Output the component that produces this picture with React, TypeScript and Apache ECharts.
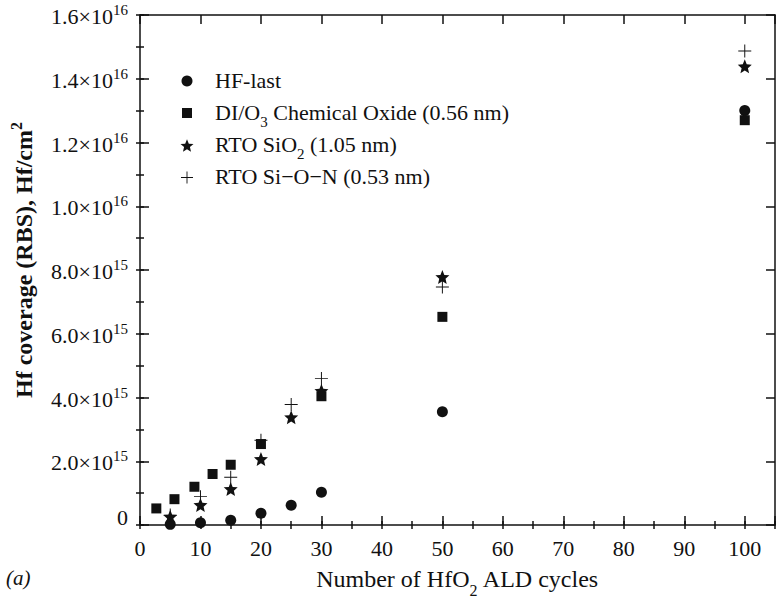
import { useEffect, useRef } from 'react';
import * as echarts from 'echarts';

const FONT = '"Liberation Serif", "Times New Roman", serif';
const INK = '#111111';

// ALD cycles for each series
const cycles = [5, 10, 15, 20, 25, 30, 50, 100];
const chemOxCycles = [2.7, 5.7, 9, 12, 15, 20, 30, 50, 100];

// Hf coverage, in units of 1e15 Hf/cm^2
const hfLast = [0.02, 0.07, 0.15, 0.37, 0.62, 1.03, 3.55, 13.0];
const chemOx = [0.52, 0.81, 1.2, 1.6, 1.89, 2.54, 4.04, 6.53, 12.7];
const rtoSiO2 = [0.26, 0.63, 1.13, 2.07, 3.38, 4.21, 7.78, 14.39];
const rtoSiON = [0.31, 0.89, 1.5, 2.66, 3.78, 4.6, 7.47, 14.87];

const seriesNames = [
  'HF-last',
  'DI/O3 Chemical Oxide (0.56 nm)',
  'RTO SiO2 (1.05 nm)',
  'RTO Si−O−N (0.53 nm)',
];
const legendLabels = [
  '{t|HF-last}',
  '{t|DI/O}{sub|3}{t| Chemical Oxide (0.56 nm)}',
  '{t|RTO SiO}{sub|2}{t| (1.05 nm)}',
  '{t|RTO Si−O−N (0.53 nm)}',
];

const X_MIN = 0;
const X_MAX = 105;
const Y_MIN = 0;
const Y_MAX = 1.6e16;
const X_MAJOR = 10;
const X_MINOR = 5;
const Y_MAJOR = 2e15;
const Y_MINOR = 1e15;

const STAR =
  'path://M10 0.5 L12.64 6.86 L19.51 7.41 L14.27 11.89 L15.88 18.59 L10 15 L4.12 18.59 L5.73 11.89 L0.49 7.41 L7.36 6.86 Z';
const PLUS =
  'path://M9.25 0 H10.75 V9.25 H20 V10.75 H10.75 V20 H9.25 V10.75 H0 V9.25 H9.25 Z';

const toPairs = (xs: number[], ys: number[]) => xs.map((x, i) => [x, ys[i] * 1e15]);

export default function App() {
  const ref = useRef<HTMLDivElement>(null);

  useEffect(() => {
    if (!ref.current) return;
    const chart = echarts.init(ref.current, null, { renderer: 'svg' });

    const lineStyle = { color: INK, width: 1.5 };
    const baseX = {
      type: 'value',
      min: X_MIN,
      max: X_MAX,
      splitLine: { show: false },
    };
    const baseY = {
      type: 'value',
      min: Y_MIN,
      max: Y_MAX,
      splitLine: { show: false },
    };

    const textRich = {
      t: { fontSize: 22, fontFamily: FONT, color: INK, lineHeight: 24, verticalAlign: 'top' },
      sub: {
        fontSize: 15,
        fontFamily: FONT,
        color: INK,
        lineHeight: 12,
        padding: [13, 0, 0, 0],
        verticalAlign: 'top',
      },
    };

    const ICON_CX = 187;
    const TEXT_X = 215;
    const legendCfg = [
      { cy: 81, size: 11 },
      { cy: 113, size: 10 },
      { cy: 145.5, size: 13 },
      { cy: 177.5, size: 12 },
    ];

    const option: any = {
      animation: false,
      backgroundColor: '#ffffff',
      textStyle: { fontFamily: FONT },
      grid: { left: 140, right: 5, top: 15, bottom: 78, containLabel: false },
      legend: seriesNames.map((name, i) => {
        const s = legendCfg[i].size;
        const left = ICON_CX - s / 2;
        return {
          data: [name],
          left,
          top: legendCfg[i].cy - 12,
          padding: 0,
          itemWidth: s,
          itemHeight: s,
          selectedMode: false,
          formatter: () => legendLabels[i],
          textStyle: { padding: [0, 0, 0, TEXT_X - (left + s + 5)], rich: textRich },
        };
      }),
      xAxis: [
        {
          ...baseX,
          position: 'bottom',
          interval: X_MAJOR,
          axisLine: { show: true, onZero: false, lineStyle },
          axisTick: { show: true, inside: true, length: 9, lineStyle },
          axisLabel: {
            show: true,
            margin: 12,
            fontSize: 22,
            fontFamily: FONT,
            color: INK,
            formatter: (v: number) => (v > 100 ? '' : String(v)),
          },
          name: '{t|Number of HfO}{sub|2}{t| ALD cycles}',
          nameLocation: 'middle',
          nameGap: 42,
          nameTextStyle: {
            rich: {
              t: { fontSize: 24, fontFamily: FONT, color: INK, lineHeight: 28, verticalAlign: 'top' },
              sub: {
                fontSize: 16,
                fontFamily: FONT,
                color: INK,
                lineHeight: 13,
                padding: [15, 0, 0, 0],
                verticalAlign: 'top',
              },
            },
          },
        },
        {
          ...baseX,
          position: 'bottom',
          interval: X_MINOR,
          axisLine: { show: false },
          axisTick: { show: true, inside: true, length: 4, lineStyle },
          axisLabel: { show: false },
        },
        {
          ...baseX,
          position: 'top',
          interval: X_MAJOR,
          axisLine: { show: true, onZero: false, lineStyle },
          axisTick: { show: true, inside: true, length: 9, lineStyle },
          axisLabel: { show: false },
        },
        {
          ...baseX,
          position: 'top',
          interval: X_MINOR,
          axisLine: { show: false },
          axisTick: { show: true, inside: true, length: 4, lineStyle },
          axisLabel: { show: false },
        },
      ],
      yAxis: [
        {
          ...baseY,
          position: 'left',
          interval: Y_MAJOR,
          axisLine: { show: true, onZero: false, lineStyle },
          axisTick: { show: true, inside: true, length: 9, lineStyle },
          axisLabel: {
            show: true,
            margin: 12,
            formatter: (v: number) => {
              if (v === 0) return '{z|0}';
              const e = Math.floor(Math.log10(v) + 1e-9);
              const m = (v / Math.pow(10, e)).toFixed(1);
              return `{m|${m}×10}{s|${e}}`;
            },
            rich: {
              m: { fontSize: 22, fontFamily: FONT, color: INK, lineHeight: 25, verticalAlign: 'bottom' },
              s: { fontSize: 15, fontFamily: FONT, color: INK, lineHeight: 10, verticalAlign: 'top' },
              z: { fontSize: 22, fontFamily: FONT, color: INK, lineHeight: 25, padding: [0, 0, 16, 0] },
            },
          },
          name: '{b|Hf coverage (RBS), Hf/cm}{s|2}',
          nameLocation: 'middle',
          nameRotate: 90,
          nameGap: 104,
          nameTextStyle: {
            padding: [0, 0, 0, 20],
            rich: {
              b: {
                fontSize: 24,
                fontWeight: 'bold',
                fontFamily: FONT,
                color: INK,
                lineHeight: 28,
                verticalAlign: 'bottom',
              },
              s: {
                fontSize: 16,
                fontWeight: 'bold',
                fontFamily: FONT,
                color: INK,
                lineHeight: 12,
                verticalAlign: 'top',
              },
            },
          },
        },
        {
          ...baseY,
          position: 'left',
          interval: Y_MINOR,
          axisLine: { show: false },
          axisTick: { show: true, inside: true, length: 4, lineStyle },
          axisLabel: { show: false },
        },
        {
          ...baseY,
          position: 'right',
          interval: Y_MAJOR,
          axisLine: { show: true, onZero: false, lineStyle },
          axisTick: { show: true, inside: true, length: 9, lineStyle },
          axisLabel: { show: false },
        },
        {
          ...baseY,
          position: 'right',
          interval: Y_MINOR,
          axisLine: { show: false },
          axisTick: { show: true, inside: true, length: 4, lineStyle },
          axisLabel: { show: false },
        },
      ],
      graphic: [
        {
          type: 'text',
          left: 6,
          top: 567,
          style: {
            text: '(a)',
            font: `italic 21px ${FONT}`,
            fill: INK,
          },
        },
      ],
      series: [
        {
          name: seriesNames[1],
          type: 'scatter',
          symbol: 'rect',
          symbolSize: 10,
          itemStyle: { color: INK, opacity: 1 },
          emphasis: { disabled: true },
          data: toPairs(chemOxCycles, chemOx),
        },
        {
          name: seriesNames[0],
          type: 'scatter',
          symbol: 'circle',
          symbolSize: 11,
          itemStyle: { color: INK, opacity: 1 },
          emphasis: { disabled: true },
          data: toPairs(cycles, hfLast),
        },
        {
          name: seriesNames[2],
          type: 'scatter',
          symbol: STAR,
          symbolSize: 14,
          itemStyle: { color: INK, opacity: 1 },
          emphasis: { disabled: true },
          data: toPairs(cycles, rtoSiO2),
        },
        {
          name: seriesNames[3],
          type: 'scatter',
          symbol: PLUS,
          symbolSize: 13,
          itemStyle: { color: INK, opacity: 1 },
          emphasis: { disabled: true },
          data: toPairs(cycles, rtoSiON),
        },
      ],
    };

    chart.setOption(option);
    return () => chart.dispose();
  }, []);

  return (
    <div
      ref={ref}
      style={{ position: 'fixed', left: 0, top: 0, width: 780, height: 603, background: '#fff' }}
    />
  );
}
